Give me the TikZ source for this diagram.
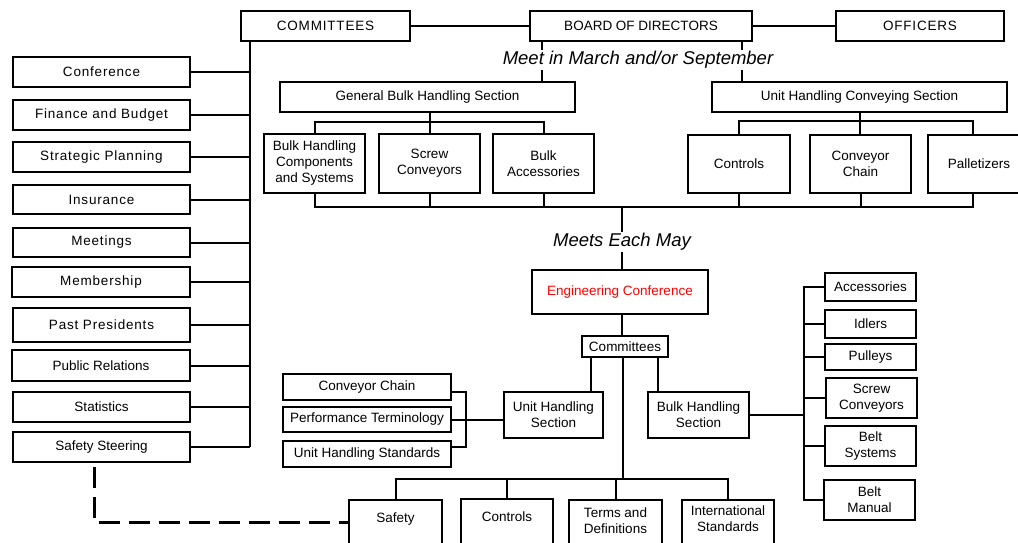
\documentclass[tikz,border=0pt]{standalone}
\usepackage{fontspec}
\setmainfont{Liberation Sans}
\newfontfamily\spacedfont[LetterSpace=6]{Liberation Sans}
\newcommand\fs{\fontsize{13.5}{16}\selectfont}
\tikzset{
  box/.style={draw, line width=2pt, inner sep=0pt, align=center, font=\fs},
  txt/.style={inner sep=0pt, align=center, font=\fs},
  ln/.style={line width=2pt},
  dashline/.style={line width=3pt, dash pattern=on 21pt off 9pt},
  lbl/.style={font=\fontsize{18.5}{20}\selectfont\itshape, fill=white, inner sep=1pt},
}
\newcommand\mkbox[6]{\node[box, minimum width={#4-#2}, minimum height={#5-#3}] (#1) at ({(#2+#4)/2},{(#3+#5)/2}) {#6};}
\begin{document}
\begin{tikzpicture}[x=1pt,y=-1pt]
\fill[white] (0,0) rectangle (1018,542);
\useasboundingbox (0,0) rectangle (1018,542);

% top row
\mkbox{comm}{241}{11}{410}{41}{{\spacedfont COMMITTEES}}
\mkbox{bod}{530}{11}{752}{41}{BOARD OF DIRECTORS}
\mkbox{off}{836}{11}{1004}{41}{{\spacedfont OFFICERS}}
\draw[ln] (comm.east) -- (bod.west);
\draw[ln] (bod.east) -- (off.west);

% left column
\mkbox{conf}{13}{57}{190}{87}{{\spacedfont Conference}}
\mkbox{fin}{13}{100}{190}{130}{{\spacedfont Finance and Budget}}
\mkbox{strat}{13}{142}{190}{172}{{\spacedfont Strategic Planning}}
\mkbox{ins}{13}{185}{190}{214}{{\spacedfont Insurance}}
\mkbox{meet}{13}{228}{190}{257}{{\spacedfont Meetings}}
\mkbox{memb}{12}{267}{190}{297}{{\spacedfont Membership}}
\mkbox{past}{13}{308}{190}{342}{{\spacedfont Past Presidents}}
\mkbox{pr}{12}{350}{190}{381}{Public Relations}
\mkbox{stat}{13}{392}{190}{422}{Statistics}
\mkbox{ss}{13}{432}{190}{462}{Safety Steering}
\coordinate (sp) at (250,447);
\draw[ln] (comm.south -| sp) -- (sp);
\foreach \b in {conf,fin,strat,ins,meet,memb,past,pr,stat,ss}
  \draw[ln] (\b.east) -- (\b.east -| sp);

% sections
\mkbox{gbhs}{280}{82}{575}{112}{General Bulk Handling Section}
\mkbox{uhcs}{712}{82}{1007}{112}{Unit Handling Conveying Section}
\coordinate (bl) at ([xshift=13pt]bod.south west);
\coordinate (br) at ([xshift=-11pt]bod.south east);
\draw[ln] (bl) -- (bl |- gbhs.north);
\draw[ln] (br) -- (br |- uhcs.north);
\node[lbl] (mims) at (638,60) {Meet in March and/or September};

\mkbox{bhc}{264}{134}{365}{193}{Bulk Handling\\Components\\and Systems}
\mkbox{scr}{379}{134}{480}{193}{Screw\\Conveyors}
\mkbox{bacc}{493}{134}{594}{193}{Bulk\\Accessories}
\mkbox{ctl}{688}{135}{790}{193}{Controls}
\mkbox{cch}{810}{135}{911}{193}{Conveyor\\Chain}
\mkbox{pal}{928}{135}{1030}{193}{Palletizers}

\coordinate (gb) at (430,122);
\draw[ln] (gb |- gbhs.south) -- (gb);
\draw[ln] (bhc.north) |- (gb);
\draw[ln] (bacc.north) |- (gb);
\draw[ln] (gb) -- (gb |- scr.north);

\coordinate (ub) at (860,121);
\coordinate (pn) at ([xshift=-6pt]pal.north);
\coordinate (ps) at ([xshift=-6pt]pal.south);
\draw[ln] (ub |- uhcs.south) -- (ub);
\draw[ln] (ctl.north) |- (ub);
\draw[ln] (pn) |- (ub);
\draw[ln] (ub) -- (ub |- cch.north);

% main bus
\mkbox{ec}{532}{270}{708}{314}{\textcolor{red}{Engineering Conference}}
\coordinate (mb) at (622,207);
\draw[ln] (bhc.south) |- (mb);
\draw[ln] (scr.south) |- (mb);
\draw[ln] (bacc.south) |- (mb);
\draw[ln] (ctl.south) |- (mb);
\draw[ln] (cch.south) |- (mb);
\draw[ln] (ps) |- (mb);
\draw[ln] (mb) -- (mb |- ec.north);
\node[lbl] (mem) at (622,242) {Meets Each May};

\mkbox{cm2}{582}{336}{668}{357}{Committees}
\draw[ln] (mb |- ec.south) -- (mb |- cm2.north);
\mkbox{uhs}{504}{392}{603}{438}{Unit Handling\\Section}
\mkbox{bhs}{648}{392}{749}{438}{Bulk Handling\\Section}
\coordinate (c1) at ([xshift=10pt]cm2.south west);
\coordinate (c2) at ([xshift=-11pt]cm2.south east);
\draw[ln] (c1) -- (c1 |- uhs.north);
\draw[ln] (c2) -- (c2 |- bhs.north);

% unit handling subgroups
\mkbox{cc3}{283}{374}{451}{400}{Conveyor Chain}
\mkbox{pt}{283}{407}{451}{432}{Performance Terminology}
\mkbox{uhstd}{283}{441}{451}{467}{Unit Handling Standards}
\coordinate (brk) at (466,419);
\draw[ln] ([yshift=-5pt]cc3.east) -| (brk) |- ([yshift=7pt]uhstd.east);
\draw[ln] (pt.east) -- (pt.east -| uhs.west);

% bulk handling subgroups
\mkbox{acc}{825}{273}{916}{301}{Accessories}
\mkbox{idl}{825}{310}{916}{338}{Idlers}
\mkbox{pul}{825}{344}{916}{370}{Pulleys}
\mkbox{scv}{826}{378}{917}{418}{Screw\\Conveyors}
\mkbox{bsy}{825}{426}{916}{466}{Belt\\Systems}
\mkbox{bman}{824}{480}{915}{520}{Belt\\Manual}
\coordinate (rb) at (804,415);
\draw[ln] (bhs.east) -- (rb);
\foreach \b in {acc,idl,pul,scv,bsy,bman}
  \draw[ln] (\b.west) -| (rb);

% bottom boxes
\node[box, minimum width=93pt, minimum height=80pt, anchor=north] (saf) at (395.5,499) {};
\node[txt] (saft) at (395.5,519) {Safety};
\node[box, minimum width=92pt, minimum height=80pt, anchor=north] (ctl2) at (507,498) {};
\node[txt] (ctl2t) at (507,517) {Controls};
\node[box, minimum width=93pt, minimum height=80pt, anchor=north] (terms) at (615.5,499) {};
\node[txt] (termst) at (615.5,520.5) {Terms and\\Definitions};
\node[box, minimum width=92pt, minimum height=80pt, anchor=north] (intl) at (728,499) {};
\node[txt] (intlt) at (728,518.5) {International\\Standards};
\coordinate (bb) at (623,479);
\draw[ln] (bb |- cm2.south) -- (bb);
\draw[ln] (saf.north) |- (bb);
\draw[ln] (ctl2.north) |- (bb);
\draw[ln] (terms.north) |- (bb);
\draw[ln] (intl.north) |- (bb);

% dashed link
\coordinate (dc) at (94,522);
\coordinate (d0) at (dc |- ss.south);
\draw[dashline] ([yshift=-4pt]d0) -- (dc) -- (dc -| saf.west);
\end{tikzpicture}
\end{document}
